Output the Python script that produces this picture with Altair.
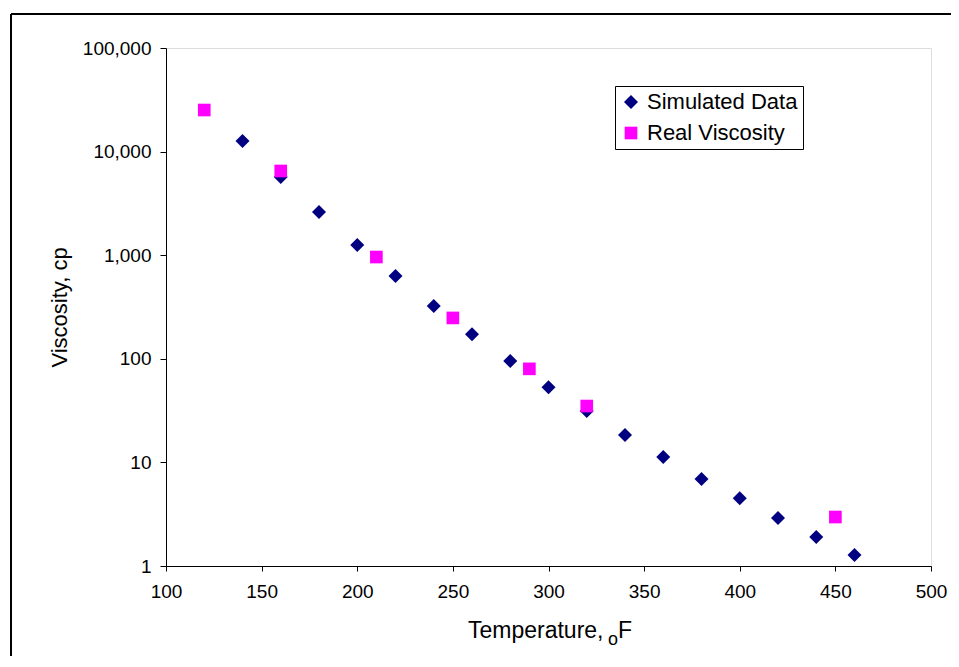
import altair as alt
import pandas as pd

# Simulated data
sim_temp = [140, 160, 180, 200, 220, 240, 260, 280, 300, 320, 340, 360, 380, 400, 420, 440, 460]
sim_visc = [12650, 5690, 2610, 1255, 630, 323, 173, 95, 53, 31.4, 18.4, 11.3, 6.9, 4.5, 2.9, 1.9, 1.28]

# Real viscosity
real_temp = [120, 160, 210, 250, 290, 320, 450]
real_visc = [25200, 6500, 960, 248, 80, 35, 2.97]

series_names = ["Simulated Data", "Real Viscosity"]
x_ticks = [100, 150, 200, 250, 300, 350, 400, 450, 500]
y_ticks = [1, 10, 100, 1000, 10000, 100000]

df = pd.DataFrame(
    {"T": sim_temp + real_temp,
     "V": sim_visc + real_visc,
     "S": [series_names[0]] * len(sim_temp) + [series_names[1]] * len(real_temp)}
)

FONT = "Liberation Sans"
W, H = 765, 518

points = alt.Chart(df).mark_point(filled=True, opacity=1, strokeWidth=0).encode(
    x=alt.X("T:Q", scale=alt.Scale(domain=[100, 500], nice=False),
            axis=alt.Axis(values=x_ticks, title=None, grid=False, domainColor="black",
                          tickColor="black", tickSize=5, labelPadding=11,
                          labelFontSize=19, labelFont=FONT, labelColor="black",
                          labelFlush=False)),
    y=alt.Y("V:Q", scale=alt.Scale(type="log", domain=[1, 100000], nice=False),
            axis=alt.Axis(values=y_ticks, format=",", title="Viscosity, cp", grid=False,
                          domainColor="black", tickColor="black", tickSize=6,
                          labelPadding=9, labelFontSize=19, labelFont=FONT,
                          labelColor="black", titleFont=FONT, titleFontSize=22,
                          titleFontWeight="normal", titleColor="black", titlePadding=11,
                          labelFlush=False)),
    color=alt.Color("S:N", scale=alt.Scale(domain=series_names, range=["#000080", "#FF00FF"]),
                    legend=alt.Legend(title=None, orient="none", legendX=449, legendY=38,
                                      strokeColor="black", fillColor="white", padding=5,
                                      labelFontSize=22, labelFont=FONT, labelColor="black",
                                      rowPadding=9, labelOffset=5, symbolSize=150,
                                      cornerRadius=0)),
    shape=alt.Shape("S:N", scale=alt.Scale(domain=series_names, range=["diamond", "square"]),
                    legend=alt.Legend(title=None, orient="none", legendX=449, legendY=38)),
    size=alt.Size("S:N", scale=alt.Scale(domain=series_names, range=[196, 160]),
                  legend=alt.Legend(title=None, orient="none", legendX=449, legendY=38)),
)

# Outer chart border (top and left visible)
top_border = alt.Chart(df).mark_rule(color="black", strokeWidth=2).encode(
    x=alt.value(-155), x2=alt.value(900), y=alt.value(-34))
left_border = alt.Chart(df).mark_rule(color="black", strokeWidth=2).encode(
    x=alt.value(-155), y=alt.value(-34), y2=alt.value(800))

title_df = pd.DataFrame({"t": ["Temperature,"]})
t1 = alt.Chart(title_df).mark_text(align="left", baseline="alphabetic", fontSize=23,
                                   font=FONT, color="black").encode(
    text="t:N", x=alt.value(302), y=alt.value(590))
o_df = pd.DataFrame({"t": ["o"]})
t2 = alt.Chart(o_df).mark_text(align="left", baseline="alphabetic", fontSize=18,
                               font=FONT, color="black").encode(
    text="t:N", x=alt.value(442), y=alt.value(597))
f_df = pd.DataFrame({"t": ["F"]})
t3 = alt.Chart(f_df).mark_text(align="left", baseline="alphabetic", fontSize=23,
                               font=FONT, color="black").encode(
    text="t:N", x=alt.value(452), y=alt.value(590))

chart = alt.layer(top_border, left_border, points, t1, t2, t3).properties(
    width=W, height=H,
    autosize=alt.AutoSizeParams(type="none"),
    padding={"left": 158, "top": 40, "right": 20, "bottom": 90},
).configure_view(stroke="#808080", strokeWidth=1.5).configure(background="white")

chart.save("out.html", embed_options={"renderer": "svg", "actions": False})
